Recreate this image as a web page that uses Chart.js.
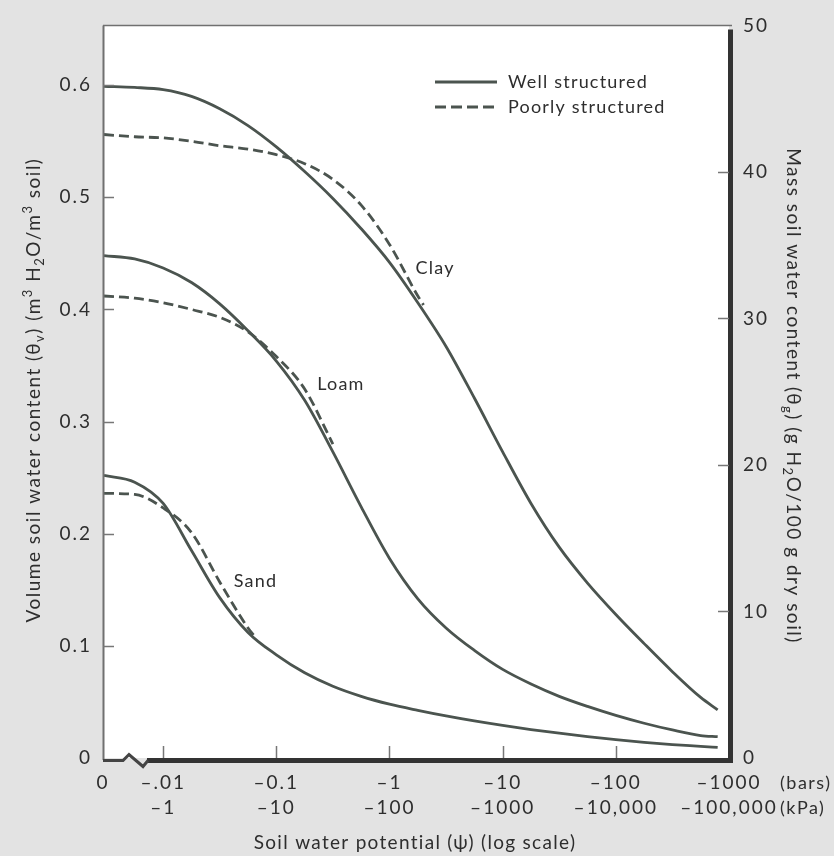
<!DOCTYPE html>
<html>
<head>
<meta charset="utf-8">
<script src="https://cdn.jsdelivr.net/npm/chart.js@4/dist/chart.umd.min.js"></script>
<style>
  html, body { margin: 0; padding: 0; background: #e3e3e3; }
  #wrap { width: 834px; height: 856px; }
  canvas { display: block; }
</style>
</head>
<body>
<div id="wrap"><canvas id="c" width="834" height="856"></canvas></div>
<script>
// ---------- DATA (soil water potential in -bars, water content in m3/m3) ----------
const xTickValues = [0.00294, 0.01, 0.1, 1, 10, 100, 1000];
const xTickBars   = ['0', '–.01', '–0.1', '–1', '–10', '–100', '–1000'];
const xTickKPa    = ['', '–1', '–10', '–100', '–1000', '–10,000', '–100,000'];
const yLeftTicks  = [0, 0.1, 0.2, 0.3, 0.4, 0.5, 0.6];
const yRightTicks = [0, 10, 20, 30, 40, 50];

// potentials (-bars) at which the well-structured curves were read
const psiWell = [0.003, 0.0056, 0.01, 0.0178, 0.0316, 0.0562, 0.1, 0.178, 0.316, 0.562, 1, 1.78, 3.16, 5.62, 10, 17.8, 31.6, 56.2, 100, 178, 316, 562, 794];

const clayWellTheta = [0.599, 0.598, 0.596, 0.590, 0.579, 0.564, 0.545, 0.523, 0.499, 0.472, 0.442, 0.406, 0.367, 0.321, 0.273, 0.227, 0.188, 0.156, 0.128, 0.102, 0.077, 0.054, 0.043];
const loamWellTheta = [0.448, 0.445, 0.437, 0.424, 0.405, 0.381, 0.354, 0.319, 0.273, 0.224, 0.178, 0.142, 0.116, 0.096, 0.079, 0.066, 0.055, 0.046, 0.038, 0.031, 0.025, 0.020, 0.019];
const sandWellTheta = [0.252, 0.246, 0.227, 0.185, 0.143, 0.112, 0.092, 0.076, 0.064, 0.055, 0.048, 0.0425, 0.0375, 0.0330, 0.0290, 0.0254, 0.0221, 0.0191, 0.0164, 0.0140, 0.0120, 0.0104, 0.0094];

const clayPoorPsi   = [0.003, 0.0056, 0.01, 0.0178, 0.0316, 0.0562, 0.1, 0.178, 0.316, 0.562, 1, 1.78, 2];
const clayPoorTheta = [0.556, 0.554, 0.553, 0.550, 0.546, 0.543, 0.538, 0.530, 0.516, 0.493, 0.458, 0.412, 0.404];
const loamPoorPsi   = [0.003, 0.0056, 0.01, 0.0178, 0.0316, 0.0562, 0.1, 0.178, 0.316];
const loamPoorTheta = [0.412, 0.410, 0.406, 0.400, 0.393, 0.380, 0.358, 0.329, 0.280];
const sandPoorPsi   = [0.003, 0.0056, 0.01, 0.0178, 0.0316, 0.0562, 0.066];
const sandPoorTheta = [0.236, 0.235, 0.223, 0.201, 0.157, 0.116, 0.107];

const curveLabels = [
  { text: 'Clay', psi: 1.7,   theta: 0.437 },
  { text: 'Loam', psi: 0.23,  theta: 0.333 },
  { text: 'Sand', psi: 0.042, theta: 0.158 }
];
const legendItems = ['Well structured', 'Poorly structured'];

// ---------- STYLE ----------
const FONT = 'Lato, "Open Sans", "DejaVu Sans", sans-serif';
const LINE = '#4b544f';
const TEXT = '#2e2e2e';

function pts(xs, ys) { return xs.map((x, i) => ({ x: x, y: ys[i] })); }
function ds(xs, ys, dashed) {
  return {
    data: pts(xs, ys),
    borderColor: LINE,
    borderWidth: 2.8,
    borderDash: dashed ? [10, 5] : [],
    pointRadius: 0,
    fill: false,
    cubicInterpolationMode: 'monotone',
    yAxisID: 'y'
  };
}

function drawRich(ctx, segs, cx, cy, rot, size, spacing) {
  ctx.save();
  ctx.letterSpacing = spacing + 'px';
  ctx.translate(cx, cy);
  ctx.rotate(rot);
  const small = Math.round(size * 0.68);
  let w = 0;
  segs.forEach(s => {
    ctx.font = (s.sub || s.sup ? small : size) + 'px ' + FONT;
    w += ctx.measureText(s.t).width;
  });
  let x = -w / 2;
  ctx.textBaseline = 'middle';
  ctx.textAlign = 'left';
  ctx.fillStyle = TEXT;
  segs.forEach(s => {
    ctx.font = (s.sub || s.sup ? small : size) + 'px ' + FONT;
    const dy = s.sub ? size * 0.3 : (s.sup ? -size * 0.35 : 0);
    ctx.fillText(s.t, x, dy);
    x += ctx.measureText(s.t).width;
  });
  ctx.restore();
}

const decor = {
  id: 'decor',
  beforeDraw(chart) {
    const { ctx, chartArea: a } = chart;
    ctx.save();
    ctx.fillStyle = '#e3e3e3';
    ctx.fillRect(0, 0, chart.width, chart.height);
    ctx.fillStyle = '#ffffff';
    ctx.fillRect(a.left, a.top, a.right - a.left, a.bottom - a.top);
    ctx.restore();
    ctx.letterSpacing = '2px';
  },
  afterDraw(chart) {
    const { ctx, chartArea: a, scales } = chart;
    const xs = scales.x, yl = scales.y, yr = scales.y2;
    ctx.save();
    // frame
    ctx.lineCap = 'butt';
    ctx.strokeStyle = '#707070';
    ctx.lineWidth = 1.5;
    ctx.beginPath(); ctx.moveTo(a.left, a.top); ctx.lineTo(a.right + 3, a.top); ctx.stroke();
    ctx.lineWidth = 2;
    ctx.beginPath(); ctx.moveTo(a.left + 0.5, a.top); ctx.lineTo(a.left + 0.5, a.bottom + 2); ctx.stroke();
    ctx.strokeStyle = '#333';
    ctx.lineWidth = 5;
    ctx.beginPath(); ctx.moveTo(a.right + 1.5, a.top + 4); ctx.lineTo(a.right + 1.5, a.bottom + 4.5); ctx.stroke();
    const by = a.bottom + 2.5;
    ctx.beginPath(); ctx.moveTo(a.left + 44, by); ctx.lineTo(a.right + 4, by); ctx.stroke();
    // axis break
    ctx.lineWidth = 3;
    ctx.strokeStyle = '#444';
    ctx.beginPath();
    ctx.moveTo(a.left, by);
    ctx.lineTo(a.left + 20, by);
    ctx.lineTo(a.left + 26, by - 6);
    ctx.lineTo(a.left + 40, by + 6);
    ctx.lineTo(a.left + 45, by);
    ctx.stroke();
    // inward ticks
    ctx.strokeStyle = '#777';
    ctx.lineWidth = 1.5;
    yLeftTicks.forEach(v => {
      if (v === 0) return;
      const p = Math.round(yl.getPixelForValue(v)) + 0.5;
      ctx.beginPath(); ctx.moveTo(a.left, p); ctx.lineTo(a.left + 11, p); ctx.stroke();
    });
    yRightTicks.forEach(v => {
      if (v === 0 || v === 50) return;
      const p = Math.round(yr.getPixelForValue(v)) + 0.5;
      ctx.beginPath(); ctx.moveTo(a.right - 11, p); ctx.lineTo(a.right, p); ctx.stroke();
    });
    xTickValues.forEach((v, i) => {
      if (i === 0 || i === xTickValues.length - 1) return;
      const p = Math.round(xs.getPixelForValue(v)) + 0.5;
      ctx.beginPath(); ctx.moveTo(p, a.bottom - 12); ctx.lineTo(p, a.bottom); ctx.stroke();
    });
    // unit labels
    ctx.fillStyle = TEXT;
    ctx.letterSpacing = '1.5px';
    ctx.font = '18px ' + FONT;
    ctx.textAlign = 'left';
    ctx.textBaseline = 'middle';
    ctx.fillText('(bars)', a.right + 51, a.bottom + 25);
    ctx.fillText('(kPa)', a.right + 51, a.bottom + 50);
    // curve labels
    ctx.letterSpacing = '1.2px';
    curveLabels.forEach(l => {
      ctx.fillText(l.text, xs.getPixelForValue(l.psi), yl.getPixelForValue(l.theta));
    });
    // legend
    const lx = 435, ly = 82;
    ctx.strokeStyle = LINE;
    ctx.lineWidth = 2.8;
    ctx.setLineDash([]);
    ctx.beginPath(); ctx.moveTo(lx, ly); ctx.lineTo(lx + 62, ly); ctx.stroke();
    ctx.setLineDash([11, 5]);
    ctx.beginPath(); ctx.moveTo(lx, ly + 25); ctx.lineTo(lx + 62, ly + 25); ctx.stroke();
    ctx.setLineDash([]);
    ctx.fillText(legendItems[0], lx + 73, ly);
    ctx.fillText(legendItems[1], lx + 73, ly + 25);
    ctx.restore();
    // axis titles
    drawRich(ctx, [{t: 'Soil water potential (ψ) (log scale)'}], 415, 843, 0, 19, 1.3);
    drawRich(ctx, [
      {t: 'Volume soil water content (θ'}, {t: 'v', sub: true}, {t: ') (m'}, {t: '3', sup: true},
      {t: ' H'}, {t: '2', sub: true}, {t: 'O/m'}, {t: '3', sup: true}, {t: ' soil)'}
    ], 34, 390, -Math.PI / 2, 19, 1.5);
    drawRich(ctx, [
      {t: 'Mass soil water content (θ'}, {t: 'g', sub: true}, {t: ') (g H'}, {t: '2', sub: true},
      {t: 'O/100 g dry soil)'}
    ], 793, 396, Math.PI / 2, 19, 1.5);
  }
};

const chart = new Chart(document.getElementById('c'), {
  type: 'line',
  data: {
    datasets: [
      ds(psiWell, clayWellTheta, false),
      ds(clayPoorPsi, clayPoorTheta, true),
      ds(psiWell, loamWellTheta, false),
      ds(loamPoorPsi, loamPoorTheta, true),
      ds(psiWell, sandWellTheta, false),
      ds(sandPoorPsi, sandPoorTheta, true)
    ]
  },
  options: {
    responsive: false,
    animation: false,
    devicePixelRatio: 1,
    layout: { padding: { top: 23, left: 0, right: 0, bottom: 0 } },
    plugins: { legend: { display: false }, tooltip: { enabled: false } },
    scales: {
      x: {
        type: 'logarithmic',
        min: 0.00294,
        max: 1000,
        grid: { display: false, drawTicks: false },
        border: { display: false },
        afterBuildTicks: s => { s.ticks = xTickValues.map(v => ({ value: v })); },
        afterFit: s => { s.height = 98; },
        ticks: {
          autoSkip: false,
          maxRotation: 0,
          padding: 12,
          color: TEXT,
          font: { family: FONT, size: 19, lineHeight: 25 / 19 },
          callback: (v, i) => [xTickBars[i], xTickKPa[i]]
        }
      },
      y: {
        type: 'linear',
        position: 'left',
        min: 0,
        max: 0.6533,
        grid: { display: false, drawTicks: false },
        border: { display: false },
        afterBuildTicks: s => { s.ticks = yLeftTicks.map(v => ({ value: v })); },
        afterFit: s => { s.width = 103; },
        ticks: {
          padding: 11,
          color: TEXT,
          font: { family: FONT, size: 19 },
          callback: v => (v === 0 ? '0' : v.toFixed(1))
        }
      },
      y2: {
        type: 'linear',
        position: 'right',
        min: 0,
        max: 50,
        grid: { display: false, drawTicks: false },
        border: { display: false },
        afterBuildTicks: s => { s.ticks = yRightTicks.map(v => ({ value: v })); },
        afterFit: s => { s.width = 105; },
        ticks: {
          padding: 14,
          color: TEXT,
          font: { family: FONT, size: 19 },
          callback: v => String(v)
        }
      }
    }
  },
  plugins: [decor]
});
</script>
</body>
</html>
